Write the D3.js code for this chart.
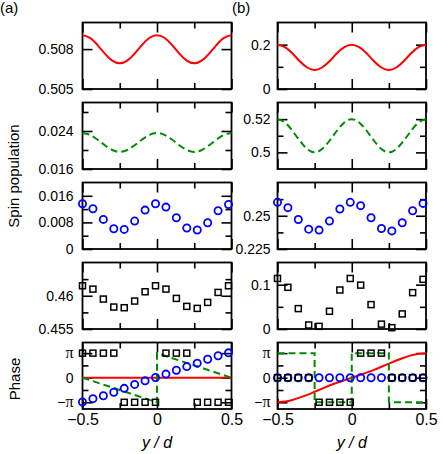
<!DOCTYPE html>
<html>
<head>
<meta charset="utf-8">
<script src="https://cdn.jsdelivr.net/npm/d3@7"></script>
<style>
body{margin:0;background:#fff}
svg text{font-family:"Liberation Sans",Arial,sans-serif;fill:#000}
</style>
</head>
<body>
<svg id="chart" width="443" height="454"></svg>
<script>
const PI=Math.PI;

// x positions: smooth curves and lattice points
const curveX=[-0.5,-0.45,-0.4,-0.35,-0.3,-0.25,-0.2,-0.15,-0.1,-0.05,0,0.05,0.1,0.15,0.2,0.25,0.3,0.35,0.4,0.45,0.5];
const pointX=[-0.5,-0.43,-0.36,-0.29,-0.22,-0.15,-0.08,-0.01,0.06,0.13,0.2,0.27,0.34,0.41,0.48];

// (a) spin populations
const aRed=[0.50905,0.50885,0.50832,0.50766,0.50713,0.50693,0.50713,0.50766,0.50832,0.50885,0.50905,0.50885,0.50832,0.50766,0.50713,0.50693,0.50713,0.50766,0.50832,0.50885,0.50905];
const aGreen=[0.0236,0.0232,0.0222,0.0210,0.0200,0.0196,0.0200,0.0210,0.0222,0.0232,0.0236,0.0232,0.0222,0.0210,0.0200,0.0196,0.0200,0.0210,0.0222,0.0232,0.0236];
const aBlue=[0.0136,0.0121,0.0089,0.0061,0.0059,0.0084,0.0117,0.0136,0.0126,0.0094,0.0063,0.0057,0.0079,0.0115,0.0134];
const aBlack=[0.4615,0.4610,0.4595,0.4583,0.4582,0.4592,0.4606,0.4615,0.4610,0.4596,0.4584,0.4581,0.4590,0.4605,0.4615];
// (a) phases
const aPhaseRed=[0,0,0,0,0,0,0,0,0,0,0,0,0,0,0,0,0,0,0,0,0];
const aPhaseGreenX=[-0.5,0,0,0.5];
const aPhaseGreen=[0,-PI,PI,0];
const aPhaseBlue=[-3.1,-2.68,-2.3,-1.86,-1.36,-0.86,-0.4,0.02,0.46,0.96,1.42,1.86,2.36,2.8,3.18];
const aPhaseBlack=[PI,PI,PI,PI,-PI,-PI,-PI,-PI,PI,PI,PI,-PI,-PI,-PI,-PI];

// (b) spin populations
const bRed=[0.200,0.189,0.161,0.125,0.097,0.086,0.097,0.125,0.161,0.189,0.200,0.189,0.161,0.125,0.097,0.086,0.097,0.125,0.161,0.189,0.200];
const bGreen=[0.520,0.518,0.513,0.507,0.502,0.500,0.502,0.507,0.513,0.518,0.520,0.518,0.513,0.507,0.502,0.500,0.502,0.507,0.513,0.518,0.520];
const bBlue=[0.2601,0.2561,0.2472,0.2399,0.2392,0.2460,0.2551,0.2601,0.2576,0.2485,0.2404,0.2386,0.2447,0.2538,0.2593];
const bBlack=[0.114,0.094,0.046,0.009,0.006,0.040,0.088,0.114,0.099,0.055,0.011,0.003,0.034,0.082,0.112];
// (b) phases
const bPhaseRed=[-3.14,-3.05,-2.85,-2.55,-2.2,-1.8,-1.4,-1.0,-0.65,-0.32,0,0.32,0.65,1.0,1.4,1.8,2.2,2.55,2.85,3.05,3.14];
const bPhaseGreenX=[-0.5,-0.25,-0.25,0,0,0.25,0.25,0.5];
const bPhaseGreen=[PI,PI,-PI,-PI,PI,PI,-PI,-PI];
const bPhaseBlue=[0,0,0,0,0,0,0,0,0,0,0,0,0,0,0];
const bPhaseBlack=[0,0,0,0,-PI,-PI,-PI,-PI,PI,PI,PI,0,0,0,0];

// y ticks (labelled / unlabelled) per panel
const aTicks=[[0.505,0.508],[0.016,0.024],[0,0.008,0.016],[0.455,0.46],[-PI,0,PI]];
const aTickLabels=[["0.505","0.508"],["0.016","0.024"],["0","0.008","0.016"],["0.455","0.46"],["−π","0","π"]];
const aMinor=[[],[0.020,0.028],[0.004,0.012],[0.4575,0.4625],[-PI/2,PI/2]];
const aDomains=[[0.505,0.510],[0.016,0.030],[0,0.02],[0.455,0.465],[-4,4.5]];
const bTicks=[[0,0.2],[0.5,0.52],[0.225,0.25],[0,0.1],[-PI,0,PI]];
const bTickLabels=[["0","0.2"],["0.5","0.52"],["0.225","0.25"],["0","0.1"],["−π","0","π"]];
const bMinor=[[0.1],[0.51],[0.2375,0.2625],[0.05],[-PI/2,PI/2]];
const bDomains=[[0,0.3],[0.49,0.53],[0.225,0.275],[0,0.15],[-4,4.5]];

const xTicks=[-0.5,0,0.5];
const xTickLabels=["−0.5","0","0.5"];
const xMinor=[-0.25,0.25];

const RED="#ff0000",GREEN="#008a00",BLUE="#0000ff",BLACK="#000";

const svg=d3.select("#chart");
const rowTop0=22.5, rowStep=80, rowH=66.5;
const columns=[
  {x0:82.5,w:149,pad:9,ticks:aTicks,labels:aTickLabels,minor:aMinor,domains:aDomains,
   series:[
     [{type:"line",x:curveX,y:aRed,color:RED}],
     [{type:"dash",x:curveX,y:aGreen,color:GREEN}],
     [{type:"circle",x:pointX,y:aBlue,color:BLUE}],
     [{type:"square",x:pointX,y:aBlack,color:BLACK}],
     [{type:"line",x:curveX,y:aPhaseRed,color:RED},
      {type:"dash",x:aPhaseGreenX,y:aPhaseGreen,color:GREEN,linear:true},
      {type:"circle",x:pointX,y:aPhaseBlue,color:BLUE},
      {type:"square",x:pointX,y:aPhaseBlack,color:BLACK}]
   ]},
  {x0:277.5,w:148.5,pad:7,ticks:bTicks,labels:bTickLabels,minor:bMinor,domains:bDomains,
   series:[
     [{type:"line",x:curveX,y:bRed,color:RED}],
     [{type:"dash",x:curveX,y:bGreen,color:GREEN}],
     [{type:"circle",x:pointX,y:bBlue,color:BLUE}],
     [{type:"square",x:pointX,y:bBlack,color:BLACK}],
     [{type:"line",x:curveX,y:bPhaseRed,color:RED},
      {type:"dash",x:bPhaseGreenX,y:bPhaseGreen,color:GREEN,linear:true},
      {type:"circle",x:pointX,y:bPhaseBlue,color:BLUE},
      {type:"square",x:pointX,y:bPhaseBlack,color:BLACK}]
   ]}
];

// replace "π" by a serif glyph in tick labels
function piGlyph(sel){
  sel.selectAll(".tick text").each(function(){
    const t=d3.select(this), s=t.text();
    if(s.indexOf("π")<0) return;
    t.text(null);
    const pre=s.replace("π","");
    if(pre) t.append("tspan").text(pre);
    t.append("tspan").style("font-family","'Liberation Serif','DejaVu Serif',serif").style("font-size","16px").text("π");
  });
}

columns.forEach(col=>{
  const x=d3.scaleLinear().domain([-0.5,0.5]).range([0,col.w]);
  col.series.forEach((list,r)=>{
    const top=rowTop0+r*rowStep;
    const y=d3.scaleLinear().domain(col.domains[r]).range([rowH,0]);
    const g=svg.append("g").attr("transform","translate("+col.x0+","+top+")");

    // y axis left (labelled) + right mirror, inward ticks
    const labs=col.labels[r];
    g.append("g")
      .call(d3.axisLeft(y).tickValues(col.ticks[r]).tickSize(-10).tickPadding(col.pad)
        .tickFormat((d,i)=>labs[i]))
      .call(a=>a.select(".domain").remove())
      .call(a=>a.selectAll("line").attr("stroke-width",1.6))
      .call(a=>a.selectAll("text").style("font-size","14px"))
      .call(piGlyph);
    g.append("g")
      .call(d3.axisLeft(y).tickValues(col.minor[r]).tickSize(-6).tickFormat(""))
      .call(a=>a.select(".domain").remove())
      .call(a=>a.selectAll("line").attr("stroke-width",1.6));
    g.append("g").attr("transform","translate("+col.w+",0)")
      .call(d3.axisRight(y).tickValues(col.ticks[r]).tickSize(-10).tickFormat(""))
      .call(a=>a.select(".domain").remove())
      .call(a=>a.selectAll("line").attr("stroke-width",1.6));
    g.append("g").attr("transform","translate("+col.w+",0)")
      .call(d3.axisRight(y).tickValues(col.minor[r]).tickSize(-6).tickFormat(""))
      .call(a=>a.select(".domain").remove())
      .call(a=>a.selectAll("line").attr("stroke-width",1.6));

    // x ticks top and bottom
    const last=r===col.series.length-1;
    g.append("g").attr("transform","translate(0,"+rowH+")")
      .call(d3.axisBottom(x).tickValues(xTicks).tickSize(-10).tickPadding(5)
        .tickFormat((d,i)=>last?xTickLabels[i]:""))
      .call(a=>a.select(".domain").remove())
      .call(a=>a.selectAll("line").attr("stroke-width",1.6))
      .call(a=>a.selectAll("text").style("font-size","16px"));
    g.append("g").attr("transform","translate(0,"+rowH+")")
      .call(d3.axisBottom(x).tickValues(xMinor).tickSize(-6).tickFormat(""))
      .call(a=>a.select(".domain").remove())
      .call(a=>a.selectAll("line").attr("stroke-width",1.6));
    g.append("g")
      .call(d3.axisTop(x).tickValues(xTicks).tickSize(-10).tickFormat(""))
      .call(a=>a.select(".domain").remove())
      .call(a=>a.selectAll("line").attr("stroke-width",1.6));
    g.append("g")
      .call(d3.axisTop(x).tickValues(xMinor).tickSize(-6).tickFormat(""))
      .call(a=>a.select(".domain").remove())
      .call(a=>a.selectAll("line").attr("stroke-width",1.6));

    // frame
    g.append("rect").attr("width",col.w).attr("height",rowH)
      .attr("fill","none").attr("stroke","#000").attr("stroke-width",1.8);

    // data
    list.forEach(s=>{
      const pts=s.x.map((v,i)=>[v,s.y[i]]);
      if(s.type==="line"||s.type==="dash"){
        const line=d3.line().x(d=>x(d[0])).y(d=>y(d[1]))
          .curve(s.linear?d3.curveLinear:d3.curveNatural);
        g.append("path").datum(pts).attr("d",line)
          .attr("fill","none").attr("stroke",s.color).attr("stroke-width",2)
          .attr("stroke-dasharray",s.type==="dash"?"7,4":null);
      } else if(s.type==="circle"){
        g.selectAll(null).data(pts).enter().append("circle")
          .attr("cx",d=>x(d[0])).attr("cy",d=>y(d[1])).attr("r",3.6)
          .attr("fill","none").attr("stroke",s.color).attr("stroke-width",1.8);
      } else {
        g.selectAll(null).data(pts).enter().append("rect")
          .attr("x",d=>x(d[0])-3).attr("y",d=>y(d[1])-3)
          .attr("width",6).attr("height",6)
          .attr("fill","none").attr("stroke",s.color).attr("stroke-width",1.5);
      }
    });
  });

  // x axis title
  svg.append("text")
    .attr("x",col.x0+col.w/2).attr("y",448)
    .attr("text-anchor","middle")
    .style("font-size","16px").style("font-style","italic")
    .text("y / d");
});

// panel letters and y titles
svg.append("text").attr("x",0).attr("y",12.5).style("font-size","15px").text("(a)");
svg.append("text").attr("x",232).attr("y",12.5).style("font-size","15px").text("(b)");
svg.append("text").attr("transform","translate(19,176) rotate(-90)")
  .attr("text-anchor","middle").style("font-size","15px").text("Spin population");
svg.append("text").attr("transform","translate(20,379) rotate(-90)")
  .attr("text-anchor","middle").style("font-size","15px").text("Phase");
</script>
</body>
</html>
